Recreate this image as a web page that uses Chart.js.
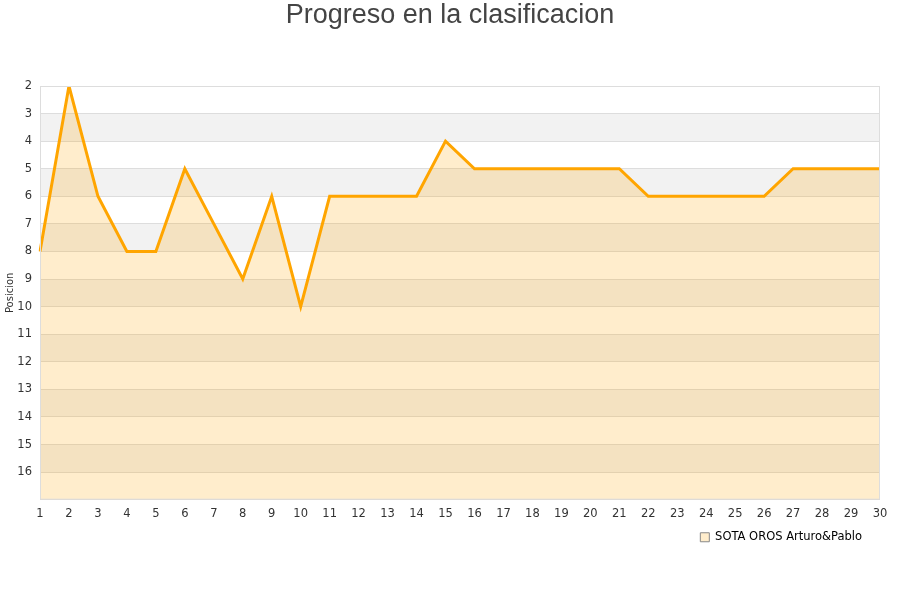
<!DOCTYPE html>
<html>
<head>
<meta charset="utf-8">
<script src="https://cdn.jsdelivr.net/npm/chart.js@4"></script>
<style>
  html, body { margin: 0; padding: 0; background: #fff; }
  #wrap { width: 900px; height: 600px; }
</style>
</head>
<body>
<div id="wrap"><canvas id="chart" width="900" height="600"></canvas></div>
<script>
const jornadas = ["1","2","3","4","5","6","7","8","9","10","11","12","13","14","15","16","17","18","19","20","21","22","23","24","25","26","27","28","29","30"];
const posiciones = [8, 2, 6, 8, 8, 5, 7, 9, 6, 10, 6, 6, 6, 6, 4, 5, 5, 5, 5, 5, 5, 6, 6, 6, 6, 6, 5, 5, 5, 5];
const equipo = "SOTA OROS Arturo&Pablo";
const titulo = "Progreso en la clasificacion";
const posMin = 2;
const posMax = 17;

// alternating grey bands behind the plot, a thin frame, and the title centred on the page
const bandsPlugin = {
  id: "bands",
  afterLayout(chart) {
    // nudge the legend a little left and up
    const lg = chart.legend;
    if (lg) {
      lg.right -= 12;
      lg.top -= 2;
      lg.bottom -= 2;
    }
  },
  beforeDraw(chart) {
    const { ctx, chartArea, scales } = chart;
    const y = scales.y;
    ctx.save();
    ctx.fillStyle = "#ffffff";
    ctx.fillRect(chartArea.left, chartArea.top, chartArea.right - chartArea.left, chartArea.bottom - chartArea.top);
    ctx.fillStyle = "#f2f2f2";
    for (let v = posMin + 1; v < posMax; v += 2) {
      const y1 = y.getPixelForValue(v);
      const y2 = y.getPixelForValue(v + 1);
      ctx.fillRect(chartArea.left, y1, chartArea.right - chartArea.left, y2 - y1);
    }
    ctx.restore();
  },
  afterDraw(chart) {
    const { ctx, chartArea } = chart;
    ctx.save();
    ctx.strokeStyle = "#dddddd";
    ctx.lineWidth = 1;
    ctx.strokeRect(chartArea.left + 0.5, chartArea.top + 0.5, chartArea.right - chartArea.left - 1, chartArea.bottom - chartArea.top - 1);
    ctx.fillStyle = "#444";
    ctx.font = "27px 'Liberation Sans'";
    ctx.textAlign = "center";
    ctx.textBaseline = "middle";
    ctx.fillText(titulo, chart.width / 2, 16);
    ctx.restore();
  }
};

new Chart(document.getElementById("chart"), {
  type: "line",
  data: {
    labels: jornadas,
    datasets: [{
      label: equipo,
      data: posiciones,
      borderColor: "#ffa500",
      borderWidth: 3,
      backgroundColor: "rgba(255,165,0,0.2)",
      fill: { value: posMax },
      pointRadius: 0,
      tension: 0
    }]
  },
  options: {
    responsive: false,
    animation: false,
    layout: { padding: { left: 4, right: 20, top: 86, bottom: 45 } },
    plugins: {
      title: { display: false },
      legend: {
        position: "bottom",
        align: "end",
        labels: {
          color: "#222",
          font: { family: "DejaVu Sans", size: 11.5 },
          boxWidth: 9,
          boxHeight: 9,
          padding: 6,
          generateLabels(chart) {
            return [{
              text: equipo,
              fillStyle: "rgba(255,165,0,0.2)",
              strokeStyle: "#888",
              lineWidth: 1,
              datasetIndex: 0
            }];
          }
        }
      },
      tooltip: { enabled: false }
    },
    scales: {
      x: {
        offset: false,
        grid: { display: false, drawTicks: false },
        border: { display: false },
        ticks: { color: "#333", font: { family: "DejaVu Sans", size: 11.5 }, maxRotation: 0, autoSkip: false, padding: 7 }
      },
      y: {
        reverse: true,
        min: posMin,
        max: posMax,
        afterFit(scale) { scale.width = 36; },
        grid: { color: "#dddddd", drawTicks: false },
        border: { display: false },
        title: { display: true, text: "Posicion", color: "#333", font: { family: "DejaVu Sans", size: 10 }, padding: 0 },
        ticks: {
          stepSize: 1,
          color: "#333",
          padding: 8,
          font: { family: "DejaVu Sans", size: 11.5 },
          callback: v => (v === posMax ? "" : v)
        }
      }
    }
  },
  plugins: [bandsPlugin]
});
</script>
</body>
</html>
